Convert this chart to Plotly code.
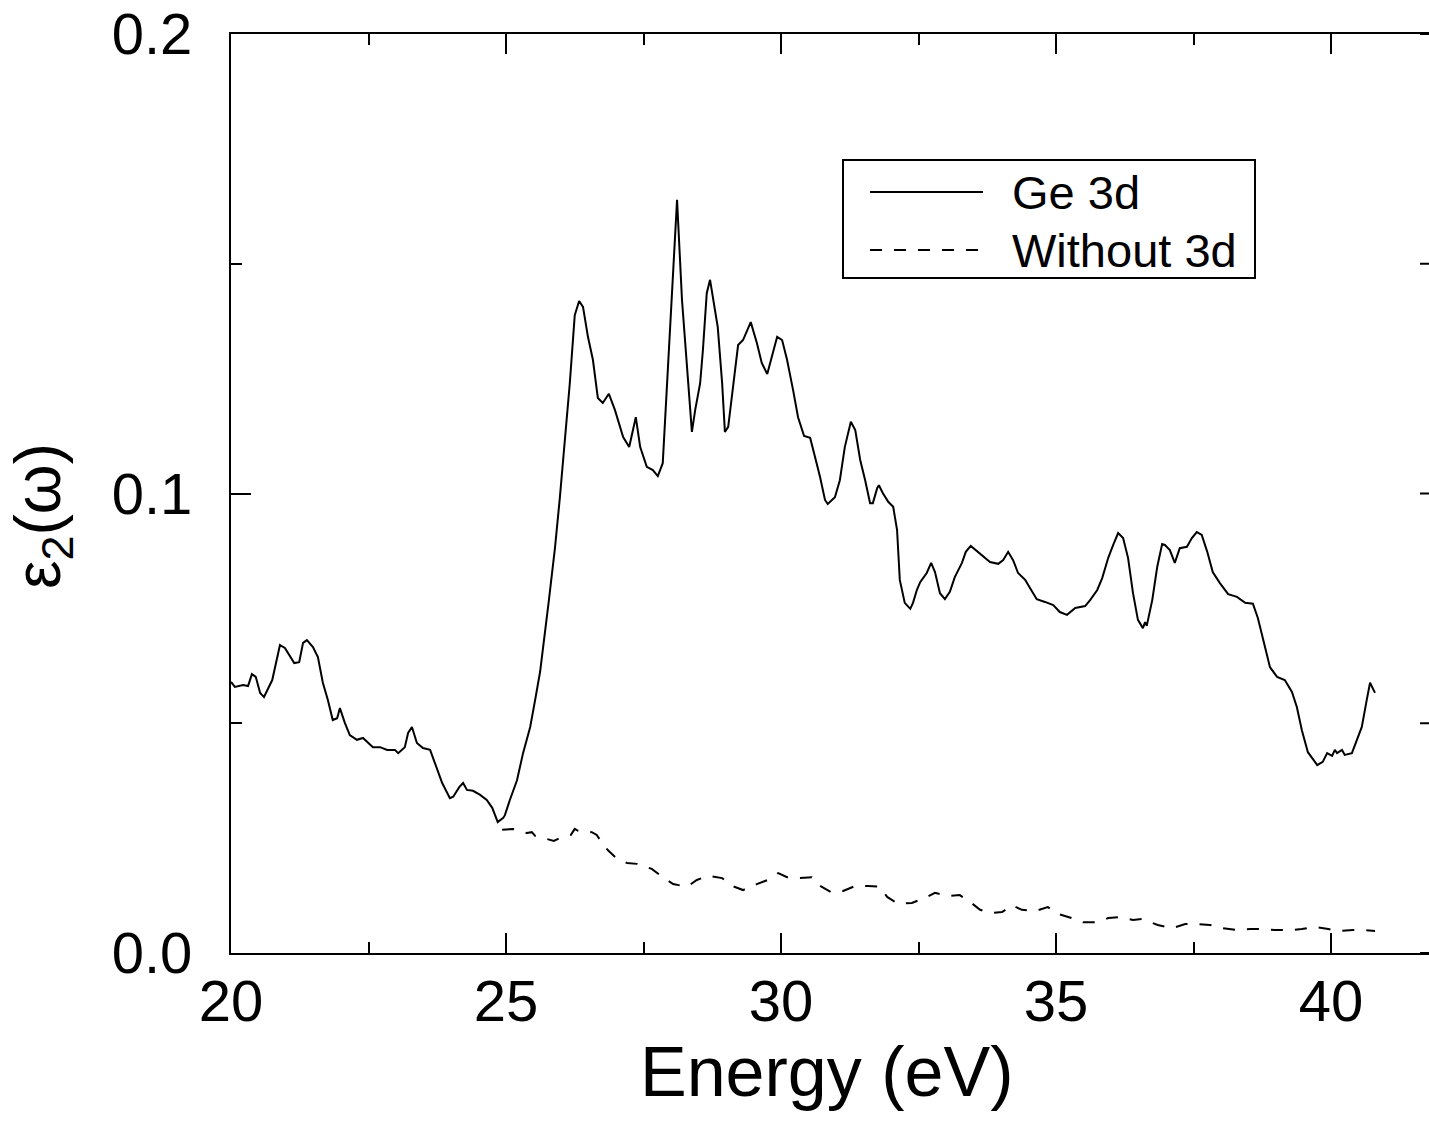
import plotly.graph_objects as go

# Imaginary part of the dielectric function, with and without the Ge 3d semicore states
energy_ge3d = [
    20.00, 20.07, 20.22, 20.31, 20.38, 20.45, 20.53, 20.60, 20.75, 20.82,
    20.89, 20.98, 21.15, 21.24, 21.31, 21.38, 21.49, 21.58, 21.67, 21.76,
    21.85, 21.93, 21.98, 22.07, 22.16, 22.29, 22.40, 22.58, 22.71, 22.84,
    22.98, 23.04, 23.16, 23.22, 23.29, 23.38, 23.49, 23.62, 23.71, 23.84,
    23.98, 24.04, 24.15, 24.22, 24.29, 24.40, 24.53, 24.65, 24.75, 24.85,
    24.95, 24.98, 25.07, 25.20, 25.31, 25.44, 25.53, 25.62, 25.78, 25.89,
    25.98, 26.07, 26.16, 26.25, 26.33, 26.40, 26.49, 26.58, 26.67, 26.76,
    26.87, 26.98, 27.13, 27.24, 27.29, 27.36, 27.44, 27.56, 27.67, 27.76,
    27.85, 27.93, 28.02, 28.11, 28.20, 28.29, 28.38, 28.44, 28.53, 28.58,
    28.65, 28.71, 28.76, 28.85, 28.93, 28.98, 29.04, 29.13, 29.22, 29.31,
    29.45, 29.56, 29.65, 29.75, 29.80, 29.93, 30.02, 30.11, 30.22, 30.31,
    30.42, 30.53, 30.62, 30.71, 30.80, 30.85, 30.98, 31.07, 31.16, 31.27,
    31.35, 31.44, 31.53, 31.62, 31.67, 31.75, 31.78, 31.85, 31.95, 32.04,
    32.11, 32.16, 32.25, 32.35, 32.40, 32.47, 32.53, 32.65, 32.73, 32.80,
    32.89, 32.98, 33.07, 33.16, 33.29, 33.36, 33.45, 33.56, 33.67, 33.80,
    33.95, 34.04, 34.13, 34.22, 34.31, 34.44, 34.53, 34.65, 34.80, 34.95,
    35.07, 35.20, 35.35, 35.53, 35.62, 35.75, 35.84, 35.95, 36.04, 36.13,
    36.22, 36.31, 36.40, 36.49, 36.58, 36.62, 36.65, 36.75, 36.84, 36.93,
    36.98, 37.07, 37.16, 37.25, 37.38, 37.47, 37.56, 37.65, 37.75, 37.85,
    37.98, 38.13, 38.29, 38.44, 38.58, 38.67, 38.80, 38.89, 39.02, 39.16,
    39.29, 39.38, 39.47, 39.58, 39.75, 39.85, 39.93, 40.02, 40.07, 40.11,
    40.20, 40.25, 40.38, 40.47, 40.56, 40.65, 40.71, 40.80,
]
eps2_ge3d = [
    0.0590, 0.0579, 0.0583, 0.0581, 0.0607, 0.0601, 0.0566, 0.0557, 0.0594, 0.0631,
    0.0670, 0.0664, 0.0631, 0.0633, 0.0675, 0.0681, 0.0666, 0.0644, 0.0588, 0.0551,
    0.0507, 0.0511, 0.0533, 0.0501, 0.0474, 0.0464, 0.0468, 0.0448, 0.0448, 0.0442,
    0.0442, 0.0435, 0.0448, 0.0479, 0.0492, 0.0457, 0.0446, 0.0442, 0.0413, 0.0370,
    0.0337, 0.0340, 0.0361, 0.0370, 0.0355, 0.0353, 0.0344, 0.0333, 0.0316, 0.0285,
    0.0294, 0.0300, 0.0333, 0.0376, 0.0435, 0.0492, 0.0551, 0.0612, 0.0768, 0.0881,
    0.0992, 0.1116, 0.1240, 0.1388, 0.1419, 0.1406, 0.1341, 0.1291, 0.1208, 0.1197,
    0.1217, 0.1182, 0.1123, 0.1101, 0.1127, 0.1166, 0.1101, 0.1058, 0.1051, 0.1038,
    0.1066, 0.1240, 0.1421, 0.1639, 0.1421, 0.1275, 0.1134, 0.1182, 0.1240, 0.1312,
    0.1436, 0.1465, 0.1428, 0.1362, 0.1240, 0.1134, 0.1145, 0.1240, 0.1323, 0.1334,
    0.1373, 0.1328, 0.1284, 0.1260, 0.1284, 0.1341, 0.1334, 0.1291, 0.1225, 0.1166,
    0.1125, 0.1121, 0.1079, 0.1036, 0.0986, 0.0977, 0.0992, 0.1029, 0.1101, 0.1156,
    0.1138, 0.1073, 0.1029, 0.0979, 0.0979, 0.1012, 0.1018, 0.1001, 0.0982, 0.0971,
    0.0921, 0.0812, 0.0762, 0.0749, 0.0762, 0.0790, 0.0807, 0.0827, 0.0849, 0.0829,
    0.0783, 0.0770, 0.0786, 0.0818, 0.0849, 0.0873, 0.0886, 0.0875, 0.0866, 0.0851,
    0.0847, 0.0855, 0.0873, 0.0855, 0.0827, 0.0812, 0.0794, 0.0770, 0.0764, 0.0757,
    0.0742, 0.0736, 0.0751, 0.0755, 0.0768, 0.0790, 0.0816, 0.0860, 0.0888, 0.0914,
    0.0903, 0.0860, 0.0783, 0.0725, 0.0707, 0.0720, 0.0712, 0.0768, 0.0840, 0.0890,
    0.0888, 0.0877, 0.0849, 0.0881, 0.0884, 0.0903, 0.0916, 0.0910, 0.0873, 0.0829,
    0.0805, 0.0781, 0.0775, 0.0762, 0.0760, 0.0729, 0.0666, 0.0622, 0.0601, 0.0594,
    0.0568, 0.0535, 0.0485, 0.0437, 0.0409, 0.0416, 0.0435, 0.0429, 0.0442, 0.0435,
    0.0442, 0.0431, 0.0435, 0.0464, 0.0492, 0.0551, 0.0588, 0.0566,
]

energy_no3d = [
    24.93, 25.13, 25.38, 25.47, 25.53, 25.75, 25.87, 25.98, 26.18, 26.25,
    26.31, 26.56, 26.65, 26.71, 26.85, 27.02, 27.20, 27.38, 27.49, 27.65,
    27.85, 28.04, 28.29, 28.47, 28.67, 28.93, 29.11, 29.31, 29.56, 29.76,
    29.95, 30.11, 30.31, 30.56, 30.71, 30.93, 31.13, 31.35, 31.58, 31.80,
    31.93, 32.13, 32.38, 32.62, 32.80, 33.02, 33.25, 33.44, 33.62, 33.84,
    34.02, 34.20, 34.38, 34.62, 34.85, 35.04, 35.29, 35.49, 35.75, 35.95,
    36.16, 36.40, 36.56, 36.85, 37.11, 37.35, 37.58, 37.80, 38.04, 38.29,
    38.53, 38.76, 38.98, 39.25, 39.47, 39.71, 39.95, 40.16, 40.40, 40.58,
    40.80,
]
eps2_no3d = [
    0.0268, 0.0270, 0.0261, 0.0263, 0.0255, 0.0248, 0.0244, 0.0250, 0.0257, 0.0270,
    0.0266, 0.0263, 0.0257, 0.0246, 0.0224, 0.0205, 0.0196, 0.0194, 0.0189, 0.0183,
    0.0165, 0.0150, 0.0144, 0.0159, 0.0168, 0.0163, 0.0146, 0.0137, 0.0150, 0.0159,
    0.0174, 0.0165, 0.0163, 0.0165, 0.0146, 0.0131, 0.0135, 0.0146, 0.0146, 0.0144,
    0.0122, 0.0107, 0.0109, 0.0120, 0.0131, 0.0124, 0.0126, 0.0111, 0.0094, 0.0087,
    0.0089, 0.0104, 0.0094, 0.0091, 0.0100, 0.0085, 0.0076, 0.0067, 0.0067, 0.0076,
    0.0078, 0.0072, 0.0074, 0.0061, 0.0054, 0.0063, 0.0063, 0.0061, 0.0054, 0.0050,
    0.0052, 0.0052, 0.0050, 0.0050, 0.0052, 0.0057, 0.0052, 0.0048, 0.0050, 0.0050,
    0.0048,
]

series_names = ["Ge 3d", "Without 3d"]

x_tickvals = [20, 25, 30, 35, 40]
x_ticktext = ["20", "25", "30", "35", "40"]
x_minorvals = [22.5, 27.5, 32.5, 37.5]
y_tickvals = [0.0, 0.1, 0.2]
y_ticktext = ["0.0", "0.1", "0.2"]
y_minorvals = [0.05, 0.15]

# figure geometry (pixels)
W, H = 1429, 1123
L, R, T, B = 231, 0, 34, 170
PW, PH = W - L - R, H - T - B
FONT = "Liberation Sans, Arial, sans-serif"


def px_x(px):
    return (px - L) / PW


def px_y(py):
    return (H - B - py) / PH


fig = go.Figure()
fig.add_trace(go.Scatter(
    x=energy_ge3d, y=eps2_ge3d, mode="lines", name=series_names[0],
    line=dict(color="black", width=2), showlegend=False,
))
fig.add_trace(go.Scatter(
    x=energy_no3d, y=eps2_no3d, mode="lines", name=series_names[1],
    line=dict(color="black", width=2, dash="12px,12px"), showlegend=False,
))

tick_style = dict(
    showline=True, linecolor="black", linewidth=2,
    ticks="inside", ticklen=20, tickwidth=2, tickcolor="black",
    showgrid=False, zeroline=False,
    tickfont=dict(family=FONT, size=58, color="black"),
)
minor_style = dict(ticks="inside", ticklen=11, tickwidth=2, tickcolor="black",
                   tickmode="array")

fig.update_xaxes(
    range=[20, 20 + PW / 55.0], tickmode="array",
    tickvals=x_tickvals, ticktext=x_ticktext,
    minor=dict(tickvals=x_minorvals, **minor_style),
    mirror="allticks", ticklabelstandoff=-4,
    **tick_style,
)
fig.update_yaxes(
    range=[0, 0.2], tickmode="array",
    tickvals=y_tickvals, ticktext=y_ticktext,
    minor=dict(tickvals=y_minorvals, **minor_style),
    mirror=False, ticklabelstandoff=25,
    **tick_style,
)

annotations = [
    dict(text="Energy (eV)", x=px_x(826), y=px_y(1072), xref="paper", yref="paper",
         xanchor="center", yanchor="middle", showarrow=False,
         font=dict(family=FONT, size=70, color="black")),
    dict(text="ε<sub>2</sub>(ω)", x=px_x(42), y=px_y(516), xref="paper", yref="paper",
         xanchor="center", yanchor="middle", showarrow=False, textangle=-90,
         font=dict(family=FONT, size=64, color="black")),
    dict(text=series_names[0], x=px_x(1010), y=px_y(192), xref="paper", yref="paper",
         xanchor="left", yanchor="middle", showarrow=False,
         font=dict(family=FONT, size=47, color="black")),
    dict(text=series_names[1], x=px_x(1010), y=px_y(250), xref="paper", yref="paper",
         xanchor="left", yanchor="middle", showarrow=False,
         font=dict(family=FONT, size=47, color="black")),
]

shapes = [
    # legend frame
    dict(type="rect", xref="paper", yref="paper",
         x0=px_x(843), x1=px_x(1255), y0=px_y(278), y1=px_y(160),
         line=dict(color="black", width=2), fillcolor="white", layer="above"),
    # legend line samples
    dict(type="line", xref="paper", yref="paper",
         x0=px_x(870), x1=px_x(983), y0=px_y(192), y1=px_y(192),
         line=dict(color="black", width=2), layer="above"),
    dict(type="line", xref="paper", yref="paper",
         x0=px_x(870), x1=px_x(983), y0=px_y(250), y1=px_y(250),
         line=dict(color="black", width=2, dash="12px,12px"), layer="above"),
]

# right-hand tick stubs at the page edge (the right frame lies just beyond it)
for v in y_tickvals + y_minorvals:
    shapes.append(dict(type="line", xref="paper", yref="y",
                       x0=px_x(1420), x1=1.0, y0=v, y1=v,
                       line=dict(color="black", width=2), layer="above"))

fig.update_layout(
    width=W, height=H,
    margin=dict(l=L, r=R, t=T, b=B, pad=0),
    paper_bgcolor="white", plot_bgcolor="white",
    annotations=annotations, shapes=shapes,
    showlegend=False,
)

fig.write_html("out.html")
